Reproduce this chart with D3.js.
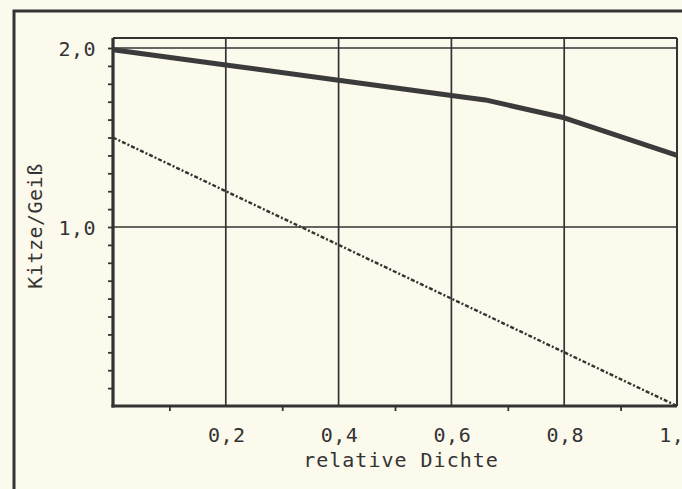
<!DOCTYPE html>
<html>
<head>
<meta charset="utf-8">
<script src="https://cdn.jsdelivr.net/npm/d3@7"></script>
<style>
  html, body { margin: 0; padding: 0; background: #fcfaec; }
  svg { display: block; }
  text { font-family: "DejaVu Sans Mono", monospace; fill: #333; }
</style>
</head>
<body>
<div id="chart"></div>
<script>
var width = 682;
var height = 489;

// data
var densityX = [0, 0.2, 0.4, 0.6, 0.66, 0.8, 0.9, 1.0];
var kidsUpper = [1.99, 1.905, 1.82, 1.735, 1.71, 1.61, 1.505, 1.40];
var dashX = [0, 0.2, 0.4, 0.6, 0.8, 1.0];
var kidsLower = [1.5, 1.2, 0.9, 0.6, 0.3, 0.0];

var xGrid = [0.2, 0.4, 0.6, 0.8, 1.0];
var xMinor = [0.1, 0.3, 0.5, 0.7, 0.9];
var xLabels = ["0,2", "0,4", "0,6", "0,8", "1,0"];
var yGrid = [1.0, 2.0];
var yMinor = [0.1, 0.2, 0.3, 0.4, 0.5, 0.6, 0.7, 0.8, 0.9, 1.0,
              1.1, 1.2, 1.3, 1.4, 1.5, 1.6, 1.7, 1.8, 1.9, 2.0];
var yLabels = ["1,0", "2,0"];

var xScale = d3.scaleLinear().domain([0, 1]).range([113, 677]);
var yScale = d3.scaleLinear().domain([0, 2]).range([406, 48]);
var plotTop = 38;

var svg = d3.select("#chart").append("svg")
    .attr("width", width)
    .attr("height", height);

svg.append("rect")
    .attr("width", width).attr("height", height)
    .attr("fill", "#fcfaec");

// outer frame (runs off the page right and bottom)
svg.append("rect")
    .attr("x", 14).attr("y", 11)
    .attr("width", 720).attr("height", 520)
    .attr("fill", "none")
    .attr("stroke", "#333")
    .attr("stroke-width", 3);

// grid
svg.selectAll(".vgrid")
    .data(xGrid)
    .enter().append("line")
    .attr("class", "vgrid")
    .attr("x1", function(d) { return xScale(d); })
    .attr("x2", function(d) { return xScale(d); })
    .attr("y1", plotTop)
    .attr("y2", yScale(0))
    .attr("stroke", "#333")
    .attr("stroke-width", function(d) { return d == 1 ? 2 : 1.7; });

svg.selectAll(".hgrid")
    .data(yGrid)
    .enter().append("line")
    .attr("class", "hgrid")
    .attr("x1", xScale(0))
    .attr("x2", xScale(1))
    .attr("y1", function(d) { return yScale(d); })
    .attr("y2", function(d) { return yScale(d); })
    .attr("stroke", "#333")
    .attr("stroke-width", 1.7);

// plot box top
svg.append("line")
    .attr("x1", xScale(0)).attr("x2", xScale(1))
    .attr("y1", plotTop).attr("y2", plotTop)
    .attr("stroke", "#333")
    .attr("stroke-width", 2);

// axes with minor ticks
var yAxis = d3.axisLeft(yScale)
    .tickValues(yMinor)
    .tickSize(5)
    .tickSizeOuter(0)
    .tickFormat("");
var xAxis = d3.axisBottom(xScale)
    .tickValues(xMinor)
    .tickSize(5)
    .tickSizeOuter(0)
    .tickFormat("");

var gy = svg.append("g")
    .attr("transform", "translate(" + xScale(0) + ",0)")
    .call(yAxis);
var gx = svg.append("g")
    .attr("transform", "translate(0," + yScale(0) + ")")
    .call(xAxis);

gy.select(".domain").attr("stroke", "#333").attr("stroke-width", 3.2)
    .attr("d", "M0," + plotTop + "V" + (yScale(0) + 1.5));
gx.select(".domain").attr("stroke", "#333").attr("stroke-width", 3.2)
    .attr("d", "M" + (xScale(0) - 1.5) + ",0H" + xScale(1));
svg.selectAll(".tick line").attr("stroke", "#333").attr("stroke-width", 1.8);

// tick labels
svg.selectAll(".ylab")
    .data(yGrid)
    .enter().append("text")
    .attr("class", "ylab")
    .attr("x", 96)
    .attr("y", function(d) { return yScale(d) + 8; })
    .attr("text-anchor", "end")
    .style("font-size", "20px")
    .style("letter-spacing", "0.5px")
    .text(function(d, i) { return yLabels[i]; });

svg.selectAll(".xlab")
    .data(xGrid)
    .enter().append("text")
    .attr("class", "xlab")
    .attr("x", function(d) { return xScale(d) + 1; })
    .attr("y", 442)
    .attr("text-anchor", "middle")
    .style("font-size", "20px")
    .style("letter-spacing", "0.5px")
    .text(function(d, i) { return xLabels[i]; });

// axis titles
svg.append("text")
    .attr("x", 401)
    .attr("y", 467)
    .attr("text-anchor", "middle")
    .style("font-size", "20px")
    .style("letter-spacing", "1px")
    .text("relative Dichte");

svg.append("text")
    .attr("transform", "translate(42,226) rotate(-90)")
    .attr("text-anchor", "middle")
    .style("font-size", "20px")
    .style("letter-spacing", "0.5px")
    .text("Kitze/Geiß");

// series
var upperLine = d3.line()
    .x(function(d, i) { return xScale(densityX[i]); })
    .y(function(d) { return yScale(d); });

svg.append("path")
    .attr("d", upperLine(kidsUpper))
    .attr("fill", "none")
    .attr("stroke", "#3b3b3b")
    .attr("stroke-width", 5)
    .attr("stroke-linejoin", "round");

var lowerLine = d3.line()
    .x(function(d, i) { return xScale(dashX[i]); })
    .y(function(d) { return yScale(d); });

svg.append("path")
    .attr("d", lowerLine(kidsLower))
    .attr("fill", "none")
    .attr("stroke", "#333")
    .attr("stroke-width", 2.4)
    .attr("stroke-dasharray", "4,2,2,2");
</script>
</body>
</html>
